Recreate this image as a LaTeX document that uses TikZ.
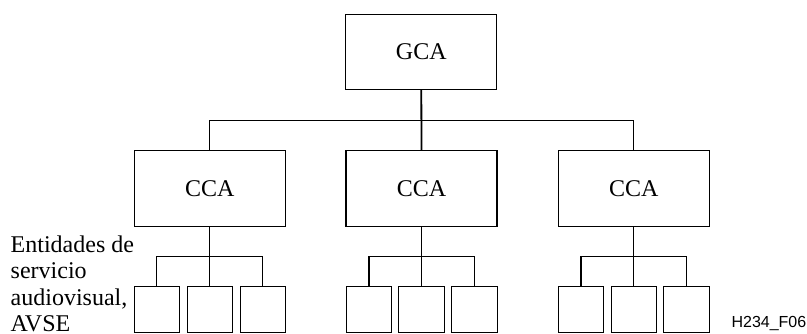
\documentclass[tikz,border=0pt]{standalone}
\usepackage{fontspec}
\setmainfont{Liberation Serif}
\newfontfamily\labelsans{Liberation Sans}
\begin{document}
\begin{tikzpicture}[x=1pt,y=-1pt,
  box/.style={draw, line width=1.1pt, inner sep=0pt, minimum width=151pt, minimum height=75.5pt,
              font=\fontsize{24}{27}\selectfont},
  smallbox/.style={draw, line width=1.1pt, inner sep=0pt, minimum width=45.5pt, minimum height=45.5pt},
  conn/.style={line width=1.1pt},
  trunk/.style={line width=1.8pt}]
\useasboundingbox (0,0) rectangle (807,333);
% top
\node[box] (g) at (421.3,51.8) {GCA};
% second level
\node[box] (c1) at (209.8,188.6) {CCA};
\node[box] (c2) at (421.5,188.6) {CCA};
\node[box] (c3) at (633.8,188.6) {CCA};
% leaves
\node[smallbox] (a1) at (156.8,309.5) {};
\node[smallbox] (a2) at (209.8,309.5) {};
\node[smallbox] (a3) at (262.9,309.5) {};
\node[smallbox] (b1) at (369.0,309.5) {};
\node[smallbox] (b2) at (421.5,309.5) {};
\node[smallbox] (b3) at (474.3,309.5) {};
\node[smallbox] (d1) at (581.0,309.5) {};
\node[smallbox] (d2) at (633.8,309.5) {};
\node[smallbox] (d3) at (686.6,309.5) {};
% bus coordinates
\coordinate (bus) at (421.5,120.5);
\coordinate (sb) at (421.5,256.3);
% connectors
\draw[trunk] (g.south) -- (c2.north);
\draw[conn] (c1.north) -- (c1.north |- bus) -- (c3.north |- bus) -- (c3.north);
\draw[conn] (c1.south) -- (a2.north);
\draw[conn] (a1.north) -- (a1.north |- sb) -- (a3.north |- sb) -- (a3.north);
\draw[trunk] (c2.south) -- (b2.north);
\draw[conn] (b1.north) -- (b1.north |- sb) -- (b3.north |- sb) -- (b3.north);
\draw[conn] (c3.south) -- (d2.north);
\draw[conn] (d1.north) -- (d1.north |- sb) -- (d3.north |- sb) -- (d3.north);
% labels
\node[anchor=base west, inner sep=0pt, align=left, font=\fontsize{24}{26.5}\selectfont]
  (lbl) at (10.5,331.5) {Entidades de\\servicio\\audiovisual,\\AVSE};
\node[anchor=base east, inner sep=0pt, font=\labelsans\fontsize{16}{18}\selectfont]
  (fig) at (806.5,327.7) {H234\_F06};
\end{tikzpicture}
\end{document}
